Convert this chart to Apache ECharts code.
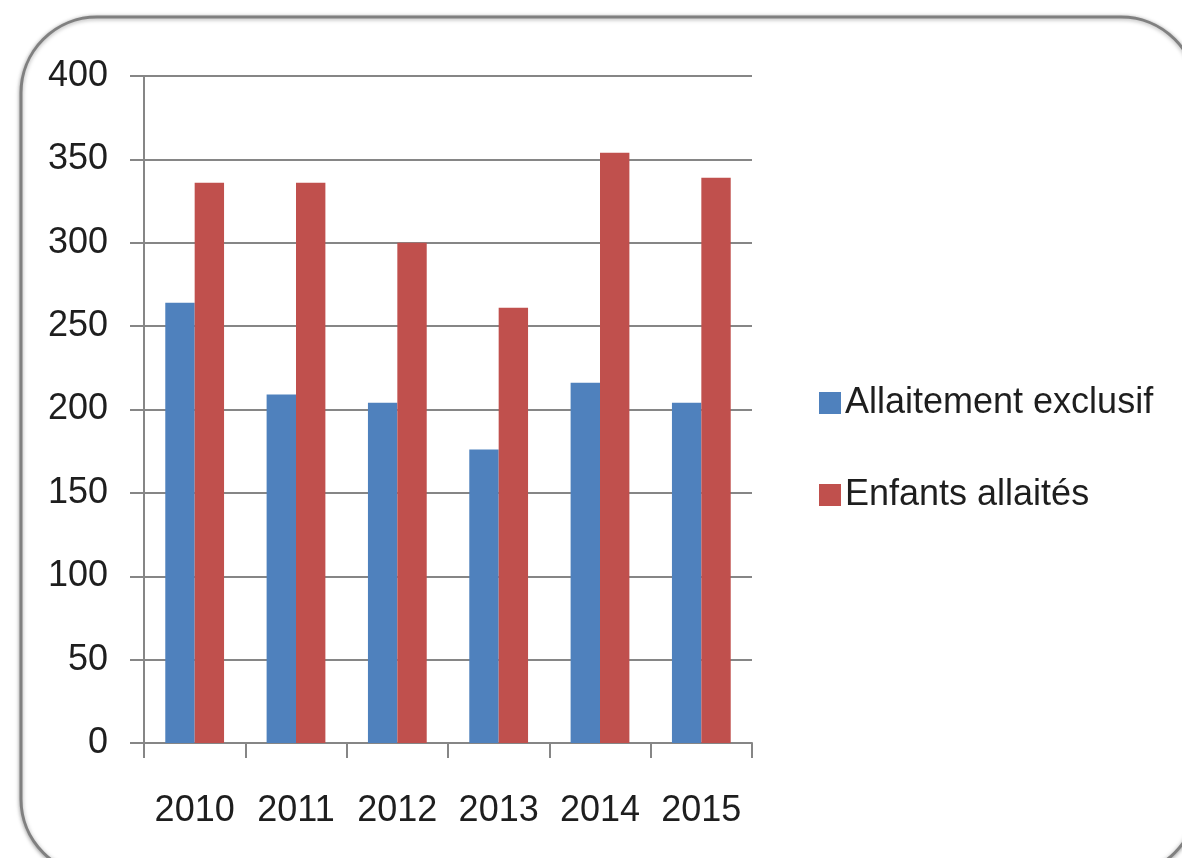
<!DOCTYPE html>
<html><head><meta charset="utf-8">
<script src="https://cdn.jsdelivr.net/npm/echarts@6/dist/echarts.min.js"></script>
<style>html,body{margin:0;padding:0;background:#fff;}#c{width:1182px;height:858px;}</style>
</head><body><div id="c"></div>
<script>
var categories = ['2010','2011','2012','2013','2014','2015'];
var exclusif = [264, 209, 204, 176, 216, 204];
var allaites = [336, 336, 300, 261, 354, 339];
var seriesNames = ['Allaitement exclusif', 'Enfants allaités'];

var FONT = '"Liberation Sans Narrow", "Liberation Sans", sans-serif';
var chart = echarts.init(document.getElementById('c'));
chart.setOption({
  animation: false,
  backgroundColor: '#fff',
  graphic: [{
    type: 'rect', z: -1,
    shape: { x: 21, y: 17, width: 1176, height: 858, r: 76 },
    style: { fill: '#fff', stroke: '#808080', lineWidth: 3, shadowBlur: 4, shadowColor: 'rgba(0,0,0,0.35)', shadowOffsetY: 1 }
  }],
  grid: { left: 144, right: 430, top: 76, bottom: 115, containLabel: false },
  legend: {
    orient: 'vertical', left: 814, top: 380,
    itemWidth: 22, itemHeight: 22, itemGap: 56,
    icon: 'rect',
    textStyle: { fontFamily: FONT, fontSize: 36, color: '#1e1e1e', padding: [0,0,0,-1] },
    data: seriesNames
  },
  xAxis: {
    type: 'category', data: categories,
    axisLine: { lineStyle: { color: '#868686', width: 2 } },
    axisTick: { show: true, length: 15, lineStyle: { color: '#868686', width: 2 } },
    axisLabel: { fontFamily: FONT, fontSize: 36, color: '#1e1e1e', margin: 50, interval: 0 }
  },
  yAxis: {
    type: 'value', min: 0, max: 400, interval: 50,
    axisLine: { show: true, lineStyle: { color: '#868686', width: 2 } },
    axisTick: { show: true, length: 14, lineStyle: { color: '#868686', width: 2 } },
    splitLine: { lineStyle: { color: '#868686', width: 2 } },
    axisLabel: { fontFamily: FONT, fontSize: 36, color: '#1e1e1e', margin: 36 }
  },
  series: [
    { name: seriesNames[0], type: 'bar', data: exclusif, barGap: '0%', barCategoryGap: '42%', itemStyle: { color: '#4F81BD' } },
    { name: seriesNames[1], type: 'bar', data: allaites, barGap: '0%', barCategoryGap: '42%', itemStyle: { color: '#C0504D' } }
  ]
});
</script></body></html>
